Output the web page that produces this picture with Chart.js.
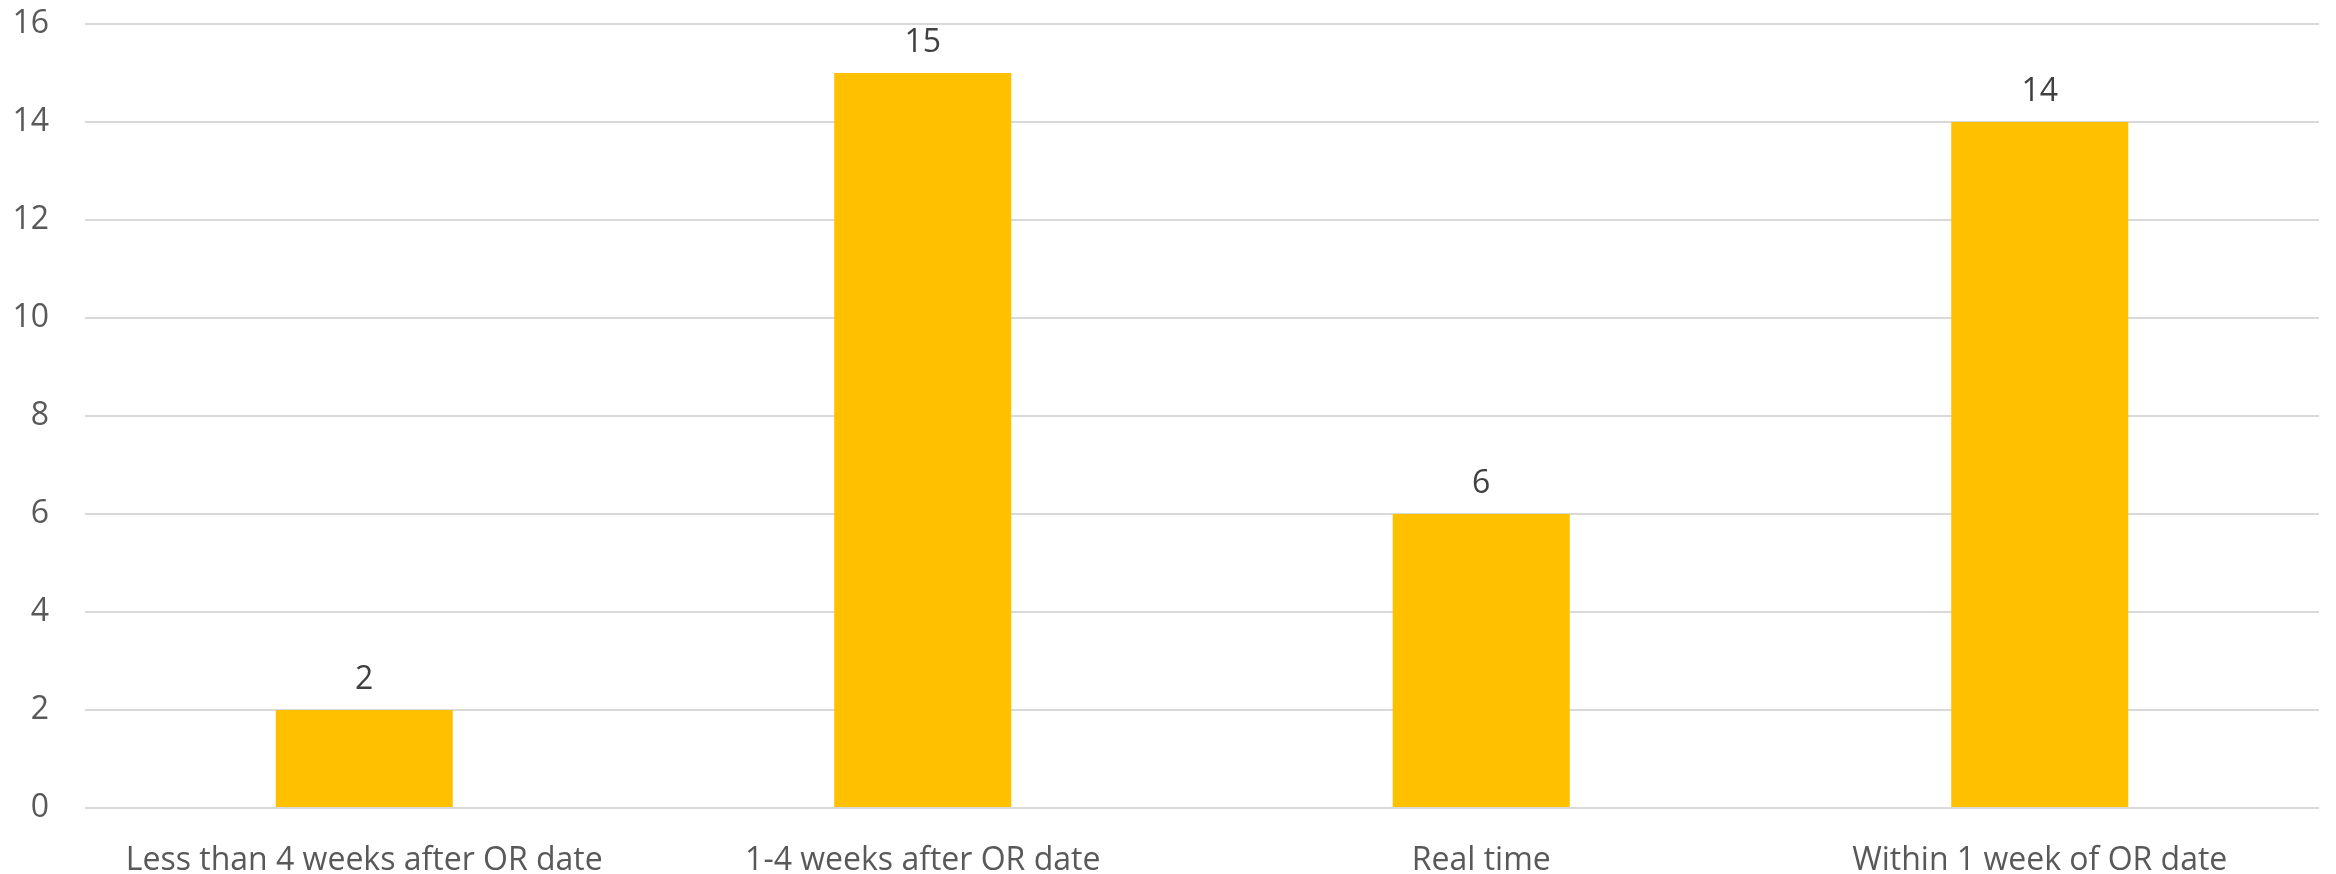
<!DOCTYPE html>
<html>
<head>
<meta charset="utf-8">
<title>Chart</title>
<script src="https://cdn.jsdelivr.net/npm/chart.js@4.4.0/dist/chart.umd.min.js"></script>
<style>
  html, body { margin: 0; padding: 0; background: #ffffff; }
  #plot1 { display: block; }
</style>
</head>
<body>
<canvas id="plot1" width="2336" height="874"></canvas>
<script>
  // Datos del gráfico
  let categorias = ['Less than 4 weeks after OR date', '1-4 weeks after OR date', 'Real time', 'Within 1 week of OR date'];
  let valores = [2, 15, 6, 14];
  let ticksY = [0, 2, 4, 6, 8, 10, 12, 14, 16];

  //Plugin sencillo para escribir el valor encima de cada barra
  let etiquetasValor = {
    id: 'etiquetasValor',
    afterDatasetsDraw: (chart) => {
      let ctx = chart.ctx;
      let meta = chart.getDatasetMeta(0);
      ctx.save();
      ctx.font = '32px "Open Sans"';
      ctx.fillStyle = '#404040';
      ctx.textAlign = 'center';
      ctx.textBaseline = 'alphabetic';
      meta.data.forEach((bar, i) => {
        ctx.fillText(String(valores[i]), bar.x, bar.y - 21);
      });
      ctx.restore();
    }
  };

  let plotRef = document.getElementById('plot1');

  let config = {
    type: 'bar',
    data: {
      labels: categorias,
      datasets: [
        {
          label: 'Valores',
          data: valores,
          backgroundColor: '#FFC000',
          borderWidth: 0,
          barPercentage: 0.317,
          categoryPercentage: 1
        }
      ]
    },
    options: {
      responsive: false,
      animation: false,
      layout: {
        padding: { left: 0, right: 17, top: 24, bottom: 0 }
      },
      plugins: {
        legend: { display: false },
        tooltip: { enabled: false }
      },
      scales: {
        x: {
          grid: { display: false, drawTicks: false },
          border: { display: false },
          ticks: {
            color: '#595959',
            font: { family: '"Open Sans"', size: 32 },
            padding: 34,
            maxRotation: 0,
            autoSkip: false
          },
          afterFit: (scale) => {
            scale.height = 66;
            scale.paddingLeft = 0;
            scale.paddingRight = 0;
          }
        },
        y: {
          min: 0,
          max: 16,
          afterBuildTicks: (scale) => { scale.ticks = ticksY.map(v => ({ value: v })); },
          grid: { color: '#d9d9d9', lineWidth: 2, drawTicks: false },
          border: { display: false },
          ticks: {
            color: '#595959',
            font: { family: '"Open Sans"', size: 32 },
            padding: 36
          },
          afterFit: (scale) => {
            scale.width = 85;
            //Sin margen extra arriba y abajo por las etiquetas
            scale.paddingTop = 0;
            scale.paddingBottom = 0;
          }
        }
      }
    },
    plugins: [etiquetasValor]
  };

  let chart1 = new Chart(plotRef, config);
</script>
</body>
</html>
